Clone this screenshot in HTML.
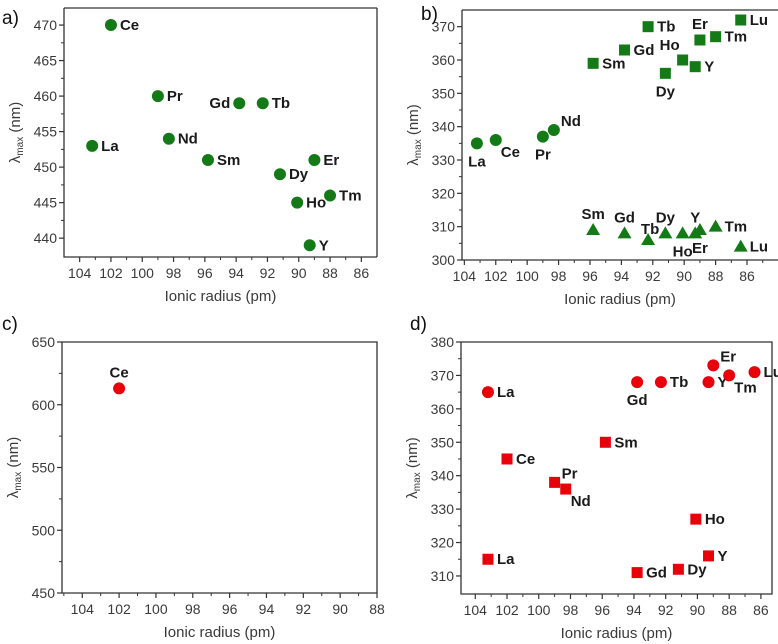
<!DOCTYPE html>
<html><head><meta charset="utf-8"><style>
body{margin:0;background:#fff;}
svg{display:block;font-family:"Liberation Sans",Arial,sans-serif;}
.tick{font-size:14px;fill:#3a3a3a;}
.title{font-size:15px;fill:#3a3a3a;}
.plabel{font-size:15px;font-weight:bold;fill:#1a1a1a;}
.panel{font-size:19px;fill:#111;}
</style></head><body>
<svg id="chart" width="778" height="644" viewBox="0 0 778 644"></svg>
<script>
// ---- Panel a (green circles)
const aNames=["La","Ce","Pr","Nd","Sm","Gd","Tb","Dy","Ho","Y","Er","Tm"];
const aX=[103.2,102,99,98.3,95.8,93.8,92.3,91.2,90.1,89.3,89,88];
const aY=[453,470,460,454,451,459,459,449,445,439,451,446];
const aPlace=["r","r","r","r","r","l","r","r","r","r","r","r"];
// ---- Panel b
const bCircNames=["La","Ce","Pr","Nd"];
const bCircX=[103.2,102,99,98.3];
const bCircY=[335,336,337,339];
const bCircPlace=["b","rb","b","rt"];
const bSqNames=["Sm","Gd","Tb","Dy","Ho","Y","Er","Tm","Lu"];
const bSqX=[95.8,93.8,92.3,91.2,90.1,89.3,89,88,86.4];
const bSqY=[359,363,370,356,360,358,366,367,372];
const bSqPlace=["r","r","r","b","tl","r","t","r","r"];
const bTriNames=["Sm","Gd","Tb","Dy","Ho","Y","Er","Tm","Lu"];
const bTriX=[95.8,93.8,92.3,91.2,90.1,89.3,89,88,86.4];
const bTriY=[309,308,306,308,308,308,309,310,304];
const bTriPlace=["t","t","tr","t","b","t","b","r","r"];
// ---- Panel c
const cNames=["Ce"];
const cX=[102];
const cY=[613];
const cPlace=["t"];
// ---- Panel d
const dCircNames=["La","Gd","Tb","Y","Er","Tm","Lu"];
const dCircX=[103.2,93.8,92.3,89.3,89,88,86.4];
const dCircY=[365,368,368,368,373,370,371];
const dCircPlace=["r","b","r","r","rt","rb","r"];
const dSqNames=["La","Ce","Pr","Nd","Sm","Gd","Dy","Ho","Y"];
const dSqX=[103.2,102,99,98.3,95.8,93.8,91.2,90.1,89.3];
const dSqY=[315,345,338,336,350,311,312,327,316];
const dSqPlace=["r","r","rt","rb","r","r","r","r","r"];
// tick labels
const aXTicks=[104,102,100,98,96,94,92,90,88,86];
const aYTicks=[440,445,450,455,460,465,470];
const bXTicks=[104,102,100,98,96,94,92,90,88,86];
const bYTicks=[300,310,320,330,340,350,360,370];
const cXTicks=[104,102,100,98,96,94,92,90,88];
const cYTicks=[450,500,550,600,650];
const dXTicks=[104,102,100,98,96,94,92,90,88,86];
const dYTicks=[310,320,330,340,350,360,370,380];

const svg=document.getElementById('chart');
const NS='http://www.w3.org/2000/svg';
function mk(tag,attrs,parent){const e=document.createElementNS(NS,tag);for(const k in attrs)e.setAttribute(k,attrs[k]);(parent||svg).appendChild(e);return e;}
const GREEN='#137a17',RED='#e8000b';

function panel(p){
  const g=mk('g',{});
  
  
  const sx=v=>p.L+(p.x0-v)/(p.x0-p.x1)*(p.R-p.L);
  const sy=v=>p.B-(v-p.y0)/(p.y1-p.y0)*(p.B-p.T);
  p.sx=sx;p.sy=sy;
  // axes
  const ax=mk('path',{d:p.box?`M${p.L},${p.T}H${p.R}V${p.B}H${p.L}Z`:`M${p.L},${p.T}V${p.B}H${p.R}`,fill:'none',stroke:'#333','stroke-width':1.3},g);
  if(!p.box){mk('line',{x1:p.L,y1:p.T,x2:p.R,y2:p.T,stroke:'#333','stroke-width':1.3},g);mk('line',{x1:p.R,y1:p.T,x2:p.R,y2:p.B,stroke:'#333','stroke-width':1.3},g);}
  
  
  // x ticks
  p.xt.forEach(v=>{
    const x=sx(v);
    mk('line',{x1:x,y1:p.B,x2:x,y2:p.B+5,stroke:'#333','stroke-width':1.2},g);
    const m=sx(v-1); if(m<p.R-1) mk('line',{x1:m,y1:p.B,x2:m,y2:p.B+3,stroke:'#333','stroke-width':1},g);
    const t=mk('text',{x:x,y:p.B+21,'text-anchor':'middle',class:'tick'},g);t.textContent=v;
    
    
  });
  const mx=sx(p.xt[0]+1); if(mx>p.L+1) mk('line',{x1:mx,y1:p.B,x2:mx,y2:p.B+3,stroke:'#333','stroke-width':1},g);
  const ystep=p.yt[1]-p.yt[0];
  p.yt.forEach((v,i)=>{
    const y=sy(v);
    mk('line',{x1:p.L-5,y1:y,x2:p.L,y2:y,stroke:'#333','stroke-width':1.2},g);
    const m=sy(v+ystep/2); if(m>p.T+1) mk('line',{x1:p.L-3,y1:m,x2:p.L,y2:m,stroke:'#333','stroke-width':1},g);
    const t=mk('text',{x:p.L-7,y:y+5,'text-anchor':'end',class:'tick'},g);t.textContent=v;
    
    
  });
  const xt=mk('text',{x:(p.L+Math.min(p.R,778))/2,y:p.B+44,'text-anchor':'middle',class:'title'},g);
  xt.textContent='Ionic radius (pm)';
  
  
  const cy=(p.T+p.B)/2, cx=p.L-44;
  const yt=mk('text',{x:cx,y:cy,'text-anchor':'middle',class:'title',transform:`rotate(-90 ${cx} ${cy})`},g);
  yt.innerHTML='λ<tspan font-size="10" dy="3">max</tspan><tspan dy="-3"> (nm)</tspan>';
  
  
  const pl=mk('text',{x:p.lx,y:p.ly,class:'panel'},g);pl.textContent=p.id+')';
  
  
  return g;
}
function series(p,g,names,xs,ys,place,shape,color){
  names.forEach((n,i)=>{
    const x=p.sx(xs[i]),y=p.sy(ys[i]);
    let m;
    if(shape==='c') m=mk('circle',{cx:x,cy:y,r:6,fill:color},g);
    else if(shape==='s') m=mk('rect',{x:x-5.5,y:y-5.5,width:11,height:11,fill:color},g);
    else m=mk('path',{d:`M${x},${y-7}L${x+7},${y+5}L${x-7},${y+5}Z`,fill:color},g);
    
    
    const pos=place[i];let tx=x+9,ty=y+5,anc='start';
    if(pos==='l'){tx=x-9;anc='end';}
    else if(pos==='b'){tx=x;ty=y+23;anc='middle';}
    else if(pos==='t'){tx=x;ty=y-11;anc='middle';}
    else if(pos==='tl'){tx=x-3;ty=y-10;anc='end';}
    else if(pos==='tr'){tx=x+2;ty=y-6;anc='middle';}
    else if(pos==='rb'){tx=x+5;ty=y+17;}
    else if(pos==='rt'){tx=x+7;ty=y-4;}
    const t=mk('text',{x:tx,y:ty,'text-anchor':anc,class:'plabel'},g);t.textContent=n;
    
    
  });
}
const pa={id:'a',L:64,R:377,T:8,B:257,x0:105,x1:85,y0:437.35,y1:472.4,xt:aXTicks,yt:aYTicks,lx:2,ly:24};
let g=panel(pa);series(pa,g,aNames,aX,aY,aPlace,'c',GREEN);
const pb={id:'b',L:462,R:780,T:10,B:260,x0:104.15,x1:83.9,y0:300,y1:375,xt:bXTicks,yt:bYTicks,lx:421,ly:20};
g=panel(pb);
series(pb,g,bCircNames,bCircX,bCircY,bCircPlace,'c',GREEN);
series(pb,g,bSqNames,bSqX,bSqY,bSqPlace,'s',GREEN);
series(pb,g,bTriNames,bTriX,bTriY,bTriPlace,'t',GREEN);
const pc={id:'c',L:62,R:377,T:342,B:593,x0:105.1,x1:88,y0:450,y1:650,xt:cXTicks,yt:cYTicks,lx:2,ly:330,box:true};
g=panel(pc);series(pc,g,cNames,cX,cY,cPlace,'c',RED);
const pd={id:'d',L:461,R:772,T:342,B:594,x0:104.9,x1:85.3,y0:304.6,y1:380,xt:dXTicks,yt:dYTicks,lx:410,ly:330,box:true};
g=panel(pd);
series(pd,g,dCircNames,dCircX,dCircY,dCircPlace,'c',RED);
series(pd,g,dSqNames,dSqX,dSqY,dSqPlace,'s',RED);
</script>
</body></html>
